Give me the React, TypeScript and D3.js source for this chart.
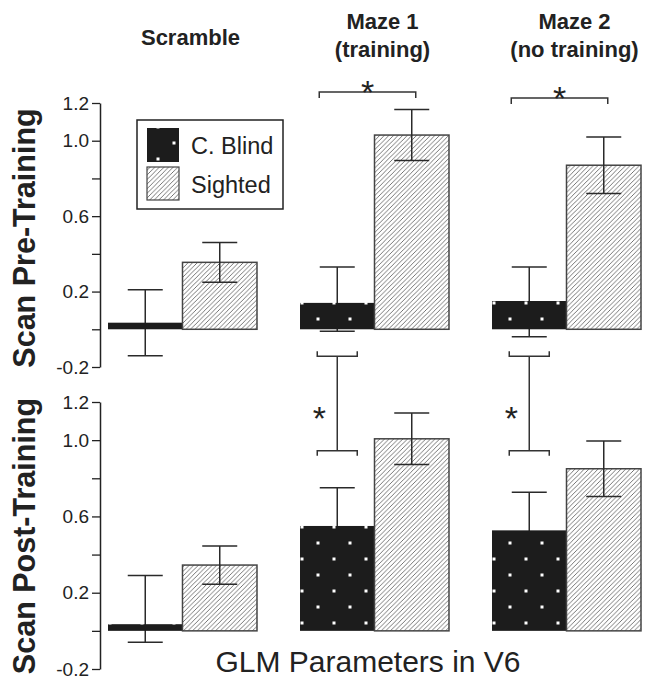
import React, { useRef, useEffect } from "react";
import * as d3 from "d3";

// categories and group names
const categories = ["Scramble", "Maze 1", "Maze 2"];
const headerLines = [["Scramble"], ["Maze 1", "(training)"], ["Maze 2", "(no training)"]];
const groups = ["C. Blind", "Sighted"];

// Scan pre-training
const preBlind = [0.035, 0.14, 0.15];
const preBlindErrUp = [0.175, 0.19, 0.18];
const preBlindErrDown = [0.175, 0.15, 0.19];
const preSighted = [0.355, 1.03, 0.87];
const preSightedErr = [0.105, 0.135, 0.15];

// Scan post-training
const postBlind = [0.035, 0.55, 0.527];
const postBlindErrUp = [0.255, 0.2, 0.2];
const postBlindErrDown = [0.095, 0.2, 0.2];
const postSighted = [0.345, 1.007, 0.85];
const postSightedErr = [0.1, 0.135, 0.145];

// significance markers (value units)
const preSigLevel = [null, 1.258, 1.227];
const crossSigFrom = [null, -0.143, -0.143]; // in pre-training panel
const crossSigTo = [null, 0.945, 0.945]; // in post-training panel

const yTicks = [-0.2, 0, 0.2, 0.4, 0.6, 0.8, 1.0, 1.2];
const yLabels = [-0.2, 0.2, 0.6, 1.0, 1.2];

const FONT = "'Liberation Sans', Arial, sans-serif";

export default function App() {
  const svgRef = useRef<SVGSVGElement>(null);

  useEffect(() => {
    const width = 645;
    const height = 680;
    const svg = d3.select(svgRef.current).attr("width", width).attr("height", height);
    svg.selectAll("*").remove();

    const defs = svg.append("defs");
    // diagonal hatch for sighted
    const hatch = defs
      .append("pattern")
      .attr("id", "hatch")
      .attr("patternUnits", "userSpaceOnUse")
      .attr("width", 4.6)
      .attr("height", 4.6);
    hatch.append("rect").attr("width", 4.6).attr("height", 4.6).attr("fill", "#fff");
    hatch
      .append("path")
      .attr("d", "M0,4.6 L4.6,0 M-1,1 L1,-1 M3.6,5.6 L5.6,3.6")
      .attr("stroke", "#555")
      .attr("stroke-width", 0.8);

    // black with white dots for blind
    const dots = defs
      .append("pattern")
      .attr("id", "dots")
      .attr("patternUnits", "userSpaceOnUse")
      .attr("x", 12.5)
      .attr("y", 13.5)
      .attr("width", 32)
      .attr("height", 32);
    dots.append("rect").attr("width", 32).attr("height", 32).attr("fill", "#1c1c1c");
    dots.append("rect").attr("x", 0).attr("y", 0).attr("width", 3).attr("height", 3).attr("fill", "#fff");
    dots.append("rect").attr("x", 16).attr("y", 16).attr("width", 3).attr("height", 3).attr("fill", "#fff");

    const x = d3.scaleBand().domain(categories).range([108, 641]).paddingInner(0.224).paddingOuter(0);
    const xg = d3.scaleBand().domain(groups).range([0, x.bandwidth()]).padding(0);

    const yPre = d3.scaleLinear().domain([-0.2, 1.2]).range([367, 103]);
    const yPost = d3.scaleLinear().domain([-0.2, 1.2]).range([669, 402]);

    const panels = [
      { y: yPre, blind: preBlind, bUp: preBlindErrUp, bDown: preBlindErrDown, sighted: preSighted, sErr: preSightedErr },
      { y: yPost, blind: postBlind, bUp: postBlindErrUp, bDown: postBlindErrDown, sighted: postSighted, sErr: postSightedErr },
    ];

    const capW = 35;

    const drawErr = (g: any, y: any, cx: number, hi: number, lo: number) => {
      const eg = g.append("g").attr("stroke", "#2a2a2a").attr("stroke-width", 1.5);
      eg.append("line").attr("x1", cx).attr("x2", cx).attr("y1", y(hi)).attr("y2", y(lo));
      eg.append("line").attr("x1", cx - capW / 2).attr("x2", cx + capW / 2).attr("y1", y(hi)).attr("y2", y(hi));
      eg.append("line").attr("x1", cx - capW / 2).attr("x2", cx + capW / 2).attr("y1", y(lo)).attr("y2", y(lo));
    };

    panels.forEach((p) => {
      const g = svg.append("g");

      // y axis
      const axis = d3
        .axisLeft(p.y)
        .tickValues(yTicks)
        .tickSize(8)
        .tickSizeOuter(0)
        .tickPadding(3)
        .tickFormat((d) => (yLabels.some((v) => Math.abs(v - +d) < 1e-9) ? (+d).toFixed(1) : ""));
      const ag = g.append("g").attr("transform", "translate(100,0)").call(axis);
      ag.select(".domain").attr("stroke", "#222").attr("stroke-width", 1.5);
      ag.selectAll(".tick line").attr("stroke", "#222").attr("stroke-width", 1.3);
      ag.selectAll(".tick text")
        .attr("font-family", FONT)
        .attr("font-size", 19)
        .attr("fill", "#222");

      categories.forEach((c, i) => {
        const x0 = x(c)!;
        const bx = x0 + xg("C. Blind")!;
        const sx = x0 + xg("Sighted")!;
        const bw = xg.bandwidth();
        const zero = p.y(0);

        // blind: error bar first so the black bar hides its inner part
        drawErr(g, p.y, bx + bw / 2, p.blind[i] + p.bUp[i], p.blind[i] - p.bDown[i]);
        g.append("rect")
          .attr("x", bx)
          .attr("y", p.y(p.blind[i]))
          .attr("width", bw)
          .attr("height", zero - p.y(p.blind[i]))
          .attr("fill", "url(#dots)");

        // sighted bar
        g.append("rect")
          .attr("x", sx)
          .attr("y", p.y(p.sighted[i]))
          .attr("width", bw)
          .attr("height", zero - p.y(p.sighted[i]))
          .attr("fill", "url(#hatch)")
          .attr("stroke", "#444")
          .attr("stroke-width", 1.5);
        drawErr(g, p.y, sx + bw / 2, p.sighted[i] + p.sErr[i], p.sighted[i] - p.sErr[i]);
      });
    });

    // pre-training significance brackets (blind vs sighted)
    categories.forEach((c, i) => {
      const lvl = preSigLevel[i];
      if (lvl == null) return;
      const x0 = x(c)!;
      const bw = xg.bandwidth();
      const left = x0 + xg("C. Blind")! + bw / 2 - 18;
      const right = x0 + xg("Sighted")! + bw / 2 + 4;
      const yy = yPre(lvl);
      svg.append("path")
        .attr("d", `M${left},${yy + 6}V${yy}H${right}V${yy + 6}`)
        .attr("fill", "none")
        .attr("stroke", "#333")
        .attr("stroke-width", 1.5);
      svg.append("text")
        .attr("x", (left + right) / 2)
        .attr("y", yy + 12)
        .attr("text-anchor", "middle")
        .attr("font-family", FONT)
        .attr("font-size", 34)
        .attr("fill", "#222")
        .text("*");
    });

    // pre vs post brackets for blind
    categories.forEach((c, i) => {
      const from = crossSigFrom[i];
      const to = crossSigTo[i];
      if (from == null || to == null) return;
      const cx = x(c)! + xg("C. Blind")! + xg.bandwidth() / 2;
      const y1 = yPre(from);
      const y2 = yPost(to);
      const hw = 20;
      const gg = svg.append("g").attr("stroke", "#333").attr("stroke-width", 1.5).attr("fill", "none");
      gg.append("path").attr("d", `M${cx - hw},${y1 - 5}V${y1}H${cx + hw}V${y1 - 5}`);
      gg.append("path").attr("d", `M${cx - hw},${y2 + 5}V${y2}H${cx + hw}V${y2 + 5}`);
      gg.append("line").attr("x1", cx).attr("x2", cx).attr("y1", y1).attr("y2", y2);
      svg.append("text")
        .attr("x", cx - 18)
        .attr("y", 430)
        .attr("text-anchor", "middle")
        .attr("font-family", FONT)
        .attr("font-size", 34)
        .attr("fill", "#222")
        .text("*");
    });

    // category headers
    categories.forEach((c, i) => {
      const cx = x(c)! + x.bandwidth() / 2 + 8;
      const lines = headerLines[i];
      const baseY = lines.length === 1 ? 45 : 29;
      lines.forEach((ln, j) => {
        svg.append("text")
          .attr("x", cx)
          .attr("y", baseY + j * 28)
          .attr("text-anchor", "middle")
          .attr("font-family", FONT)
          .attr("font-weight", "bold")
          .attr("font-size", 22)
          .attr("fill", "#222")
          .text(ln);
      });
    });

    // legend
    const lg = svg.append("g");
    lg.append("rect").attr("x", 137).attr("y", 120).attr("width", 146).attr("height", 89)
      .attr("fill", "#fff").attr("stroke", "#222").attr("stroke-width", 1.5);
    [
      { fill: "url(#dots)", label: groups[0], y: 128 },
      { fill: "url(#hatch)", label: groups[1], y: 167 },
    ].forEach((d, i) => {
      lg.append("rect").attr("x", 147).attr("y", d.y).attr("width", 32).attr("height", i === 0 ? 34 : 33)
        .attr("fill", d.fill).attr("stroke", i === 0 ? "none" : "#444").attr("stroke-width", 1.2);
      lg.append("text").attr("x", 191).attr("y", d.y + 26)
        .attr("font-family", FONT).attr("font-size", 23.5).attr("fill", "#222").text(d.label);
    });

    // y titles
    [
      { t: "Scan Pre-Training", cy: 238 },
      { t: "Scan Post-Training", cy: 536 },
    ].forEach((d) => {
      svg.append("text")
        .attr("transform", `translate(35,${d.cy}) rotate(-90)`)
        .attr("text-anchor", "middle")
        .attr("font-family", FONT)
        .attr("font-weight", "bold")
        .attr("font-size", 30.5)
        .attr("fill", "#222")
        .text(d.t);
    });

    // x title
    svg.append("text")
      .attr("x", 368)
      .attr("y", 672)
      .attr("text-anchor", "middle")
      .attr("font-family", FONT)
      .attr("font-size", 30)
      .attr("fill", "#222")
      .text("GLM Parameters in V6");
  }, []);

  return (
    <div>
      <svg ref={svgRef} style={{ position: "absolute", left: 0, top: 0, background: "#fff" }} />
    </div>
  );
}
